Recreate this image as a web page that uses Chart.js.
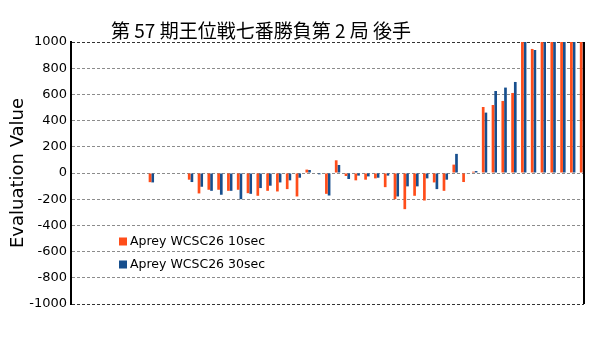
<!DOCTYPE html>
<html>
<head>
<meta charset="utf-8">
<title>第 57 期王位戦七番勝負第 2 局 後手</title>
<script src="https://cdn.jsdelivr.net/npm/chart.js@4.4.1/dist/chart.umd.min.js"></script>
<style>
    html, body { margin: 0; padding: 0; background: #fff; }
    canvas { display: block; }
</style>
</head>
<body>
<canvas id="evalChart" width="600" height="337"></canvas>
<script>
const chartTitle = '第 57 期王位戦七番勝負第 2 局 後手';
const yAxisTitle = 'Evaluation Value';
const seriesNames = ['Aprey WCSC26 10sec', 'Aprey WCSC26 30sec'];
const seriesColors = ['#ff4d1a', '#174f8e'];

// move index (x) for each pair of bars
const moves = [
    0, 1, 2, 3, 4, 5, 6, 7, 8, 9,
    10, 11, 12, 13, 14, 15, 16, 17, 18, 19,
    20, 21, 22, 23, 24, 25, 26, 27, 28, 29,
    30, 31, 32, 33, 34, 35, 36, 37, 38, 39,
    40, 41, 42, 43, 44, 45, 46, 47, 48, 49,
    50, 51, 52
];

const eval10sec = [
    0, 0, 0, 0, 0, 0, 0, 0, -70, 0,
    0, 0, -51, -156, -128, -128, -136, -128, -154, -174,
    -136, -141, -123, -179, 26, 0, -159, 97, -23, -56,
    -51, -41, -108, -200, -276, -174, -210, -72, -136, 64,
    -69, 10, 504, 519, 550, 611, 1000, 947, 1000, 1000,
    1000, 1000, 1000
];

const eval30sec = [
    0, 0, 0, 0, 0, 0, 0, 0, -72, 0,
    0, 0, -69, -105, -136, -166, -136, -200, -159, -115,
    -97, -72, -56, -36, 23, -10, -172, 61, -46, -20,
    -26, -36, -20, -179, -102, -102, -41, -123, -51, 146,
    -3, 15, 461, 626, 652, 695, 1000, 939, 1000, 1000,
    1000, 1000, 1000
];

const yMin = -1000;
const yMax = 1000;
const yStep = 200;

// title, legend box inside the plot, right border of the plot
const decorations = {
    id: 'decorations',
    afterDraw(chart) {
        const { ctx, chartArea } = chart;
        ctx.save();

        ctx.strokeStyle = '#000';
        ctx.lineWidth = 2;
        ctx.beginPath();
        ctx.moveTo(chartArea.right, chartArea.top);
        ctx.lineTo(chartArea.right, chartArea.bottom);
        ctx.stroke();

        ctx.fillStyle = '#000';
        ctx.font = '19px "Noto Sans CJK JP", sans-serif';
        ctx.textAlign = 'center';
        ctx.textBaseline = 'middle';
        ctx.fillText(chartTitle, 261, 31);

        ctx.font = '12.5px "DejaVu Sans", sans-serif';
        ctx.textAlign = 'left';
        chart.data.datasets.forEach((ds, i) => {
            const y = 241.5 + i * 23;
            ctx.fillStyle = ds.backgroundColor;
            ctx.fillRect(119, y - 4, 8, 8);
            ctx.fillStyle = '#000';
            ctx.fillText(ds.label, 130, y);
        });

        ctx.restore();
    }
};

const ctx = document.getElementById('evalChart').getContext('2d');

new Chart(ctx, {
    type: 'bar',
    data: {
        datasets: [
            {
                label: seriesNames[0],
                data: moves.map((m, i) => ({ x: m, y: eval10sec[i] })),
                backgroundColor: seriesColors[0]
            },
            {
                label: seriesNames[1],
                data: moves.map((m, i) => ({ x: m, y: eval30sec[i] })),
                backgroundColor: seriesColors[1]
            }
        ]
    },
    options: {
        responsive: false,
        animation: false,
        categoryPercentage: 0.55,
        barPercentage: 1.0,
        layout: {
            padding: { top: 42, right: 16, bottom: 33, left: 0 }
        },
        plugins: {
            legend: { display: false },
            title: { display: false },
            tooltip: { enabled: false }
        },
        scales: {
            x: {
                type: 'linear',
                min: -0.2,
                max: 52.15,
                offset: false,
                grid: { offset: false },
                display: false
            },
            y: {
                min: yMin,
                max: yMax,
                afterFit: (scale) => { scale.width = 71; },
                ticks: {
                    stepSize: yStep,
                    color: '#000',
                    padding: 4,
                    font: { family: 'DejaVu Sans', size: 13 },
                    callback: (value) => String(value)
                },
                grid: {
                    drawTicks: false,
                    lineWidth: 1,
                    color: (c) => (c.tick && Math.abs(c.tick.value) === 1000) ? '#333' : '#8c8c8c'
                },
                border: {
                    display: true,
                    color: '#000',
                    width: 2,
                    dash: [3, 2]
                },
                title: {
                    display: true,
                    text: yAxisTitle,
                    color: '#000',
                    padding: { top: 8, bottom: 0 },
                    font: { family: 'DejaVu Sans', size: 18 }
                }
            }
        }
    },
    plugins: [decorations]
});
</script>
</body>
</html>
